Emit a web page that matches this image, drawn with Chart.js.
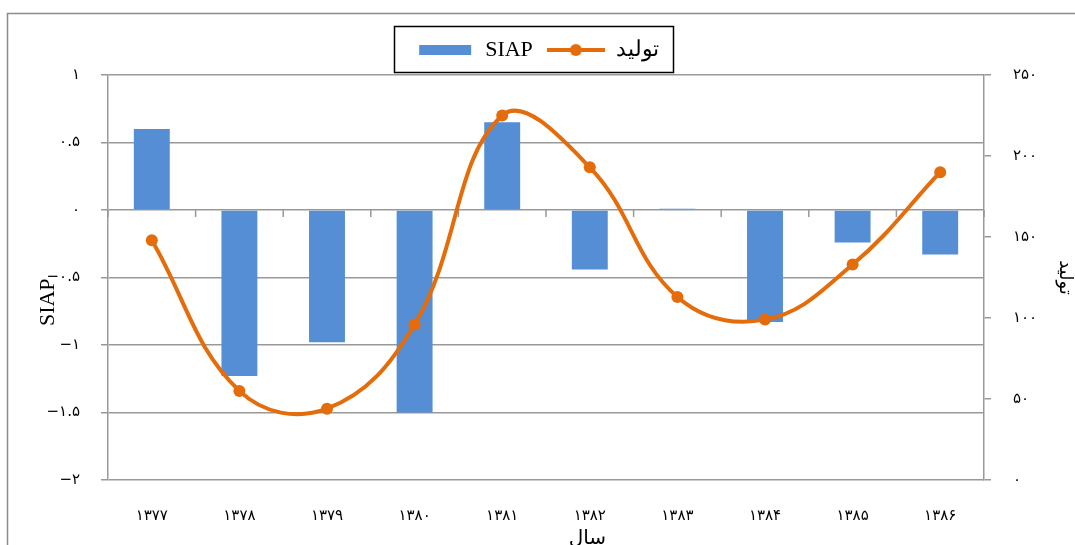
<!DOCTYPE html>
<html>
<head>
<meta charset="utf-8">
<script src="https://cdn.jsdelivr.net/npm/chart.js@4"></script>
<style>
  body { margin: 0; background: #fff; }
  #wrap { width: 1075px; height: 545px; }
</style>
</head>
<body>
<div id="wrap"><canvas id="myChart"></canvas></div>
<script>
// سال ها
var years = ['۱۳۷۷', '۱۳۷۸', '۱۳۷۹', '۱۳۸۰', '۱۳۸۱', '۱۳۸۲', '۱۳۸۳', '۱۳۸۴', '۱۳۸۵', '۱۳۸۶'];
// SIAP (left axis)
var siap = [0.6, -1.23, -0.98, -1.5, 0.65, -0.44, 0.01, -0.83, -0.24, -0.33];
// تولید (right axis)
var tolid = [148, 55, 44, 96, 225, 193, 113, 99, 133, 190];

var blue = '#558ED5';
var orange = '#E46C0A';
var gray = '#999999';
var nb = '\u00A0';

function fa(n) {
  return String(n).replace(/\d/g, function (d) { return '۰۱۲۳۴۵۶۷۸۹'[d]; }).replace('-', '−');
}

function legendImg(kind) {
  var c = document.createElement('canvas');
  c.width = 58; c.height = 14;
  var g = c.getContext('2d');
  if (kind == 'bar') {
    g.fillStyle = blue;
    g.fillRect(3, 2, 52, 10);
  } else {
    g.strokeStyle = orange;
    g.lineWidth = 4;
    g.beginPath(); g.moveTo(0, 7); g.lineTo(58, 7); g.stroke();
    g.fillStyle = orange;
    g.beginPath(); g.arc(29, 7, 6, 0, Math.PI * 2); g.fill();
  }
  return c;
}
var barImg = legendImg('bar');
var lineImg = legendImg('line');

// frame, legend box and the tick marks on the zero line
var extras = {
  id: 'extras',
  beforeLayout: function (chart) {
    var lg = chart.legend;
    if (lg && !lg._extraGap) {
      var fit = lg.fit;
      lg.fit = function () { fit.call(this); this.height += 4; };
      lg._extraGap = true;
    }
  },
  beforeDraw: function (chart) {
    var ctx = chart.ctx;
    ctx.save();
    ctx.fillStyle = '#fff';
    ctx.fillRect(0, 0, chart.width, chart.height);
    ctx.strokeStyle = '#8c8c8c';
    ctx.lineWidth = 1.5;
    ctx.strokeRect(7.5, 13.5, 1200, 700);
    ctx.restore();
  },
  beforeDatasetsDraw: function (chart) {
    var ctx = chart.ctx;
    var xs = chart.scales.x;
    var y0 = chart.scales.y.getPixelForValue(0);
    var w = (xs.right - xs.left) / years.length;
    ctx.save();
    ctx.strokeStyle = gray;
    ctx.lineWidth = 1.5;
    for (var i = 0; i <= years.length; i++) {
      var x = xs.left + i * w;
      ctx.beginPath(); ctx.moveTo(x, y0); ctx.lineTo(x, y0 + 7); ctx.stroke();
    }
    ctx.restore();
  },
  afterDraw: function (chart) {
    var boxes = chart.legend.legendHitBoxes;
    if (!boxes || !boxes.length) return;
    var l = Infinity, r = -Infinity, t = Infinity, b = -Infinity;
    boxes.forEach(function (h) {
      l = Math.min(l, h.left); r = Math.max(r, h.left + h.width);
      t = Math.min(t, h.top); b = Math.max(b, h.top + h.height);
    });
    var ctx = chart.ctx;
    ctx.save();
    ctx.strokeStyle = '#000';
    ctx.lineWidth = 1.5;
    ctx.strokeRect(Math.round(l - 22) + 0.5, Math.round(t - 13) + 0.5, Math.round(r - l + 36), Math.round(b - t + 24));
    ctx.restore();
  }
};

new Chart('myChart', {
  type: 'bar',
  data: {
    labels: years,
    datasets: [{
      type: 'bar',
      label: 'SIAP',
      data: siap,
      yAxisID: 'y',
      backgroundColor: blue,
      barPercentage: 0.41,
      categoryPercentage: 1,
      order: 2
    }, {
      type: 'line',
      label: 'تولید',
      data: tolid,
      yAxisID: 'y1',
      borderColor: orange,
      backgroundColor: orange,
      borderWidth: 4,
      pointRadius: 6,
      pointBorderWidth: 0,
      pointBackgroundColor: orange,
      tension: 0.4,
      fill: false,
      order: 1
    }]
  },
  options: {
    responsive: true,
    maintainAspectRatio: false,
    animation: false,
    layout: { padding: { top: 25, left: 0, right: 0, bottom: 0 } },
    plugins: {
      tooltip: { enabled: false },
      legend: {
        display: true,
        position: 'top',
        labels: {
          usePointStyle: true,
          pointStyleWidth: 58,
          padding: 14,
          color: '#000',
          font: { family: 'Liberation Serif', size: 22 },
          sort: function (a, b) { return a.datasetIndex - b.datasetIndex; },
          generateLabels: function (chart) {
            var items = Chart.defaults.plugins.legend.labels.generateLabels(chart);
            items.forEach(function (it) { it.pointStyle = it.datasetIndex == 0 ? barImg : lineImg; });
            return items;
          }
        }
      }
    },
    scales: {
      x: {
        grid: { display: false },
        border: { display: false },
        ticks: { color: '#000', padding: 19, font: { family: 'DejaVu Sans', size: 15 } },
        title: { display: true, text: nb.repeat(13) + 'سال', color: '#000', padding: { top: 0, bottom: -6 }, font: { family: 'DejaVu Sans', size: 20 } },
        afterFit: function (s) { s.height = 65; }
      },
      y: {
        position: 'left',
        min: -2,
        max: 1,
        ticks: { stepSize: 0.5, color: '#000', padding: 21, font: { family: 'DejaVu Sans', size: 15 }, callback: function (v) { return fa(v); } },
        grid: { color: gray, lineWidth: 1.5, tickLength: 7 },
        border: { color: gray, width: 1.5 },
        title: { display: true, text: 'SIAP' + nb.repeat(9), color: '#000', padding: { top: 35, bottom: 0 }, font: { family: 'Liberation Serif', size: 22 } },
        afterFit: function (s) { s.width = 108; }
      },
      y1: {
        position: 'right',
        min: 0,
        max: 250,
        ticks: { stepSize: 50, color: '#000', padding: 22, font: { family: 'DejaVu Sans', size: 15 }, callback: function (v) { return fa(v); } },
        grid: { drawOnChartArea: false, color: gray, lineWidth: 1.5, tickLength: 7 },
        border: { color: gray, width: 1.5 },
        title: { display: true, text: 'تولید', color: '#000', padding: { top: 0, bottom: 10 }, font: { family: 'DejaVu Sans', size: 18 } },
        afterFit: function (s) { s.width = 91; }
      }
    }
  },
  plugins: [extras]
});
</script>
</body>
</html>
